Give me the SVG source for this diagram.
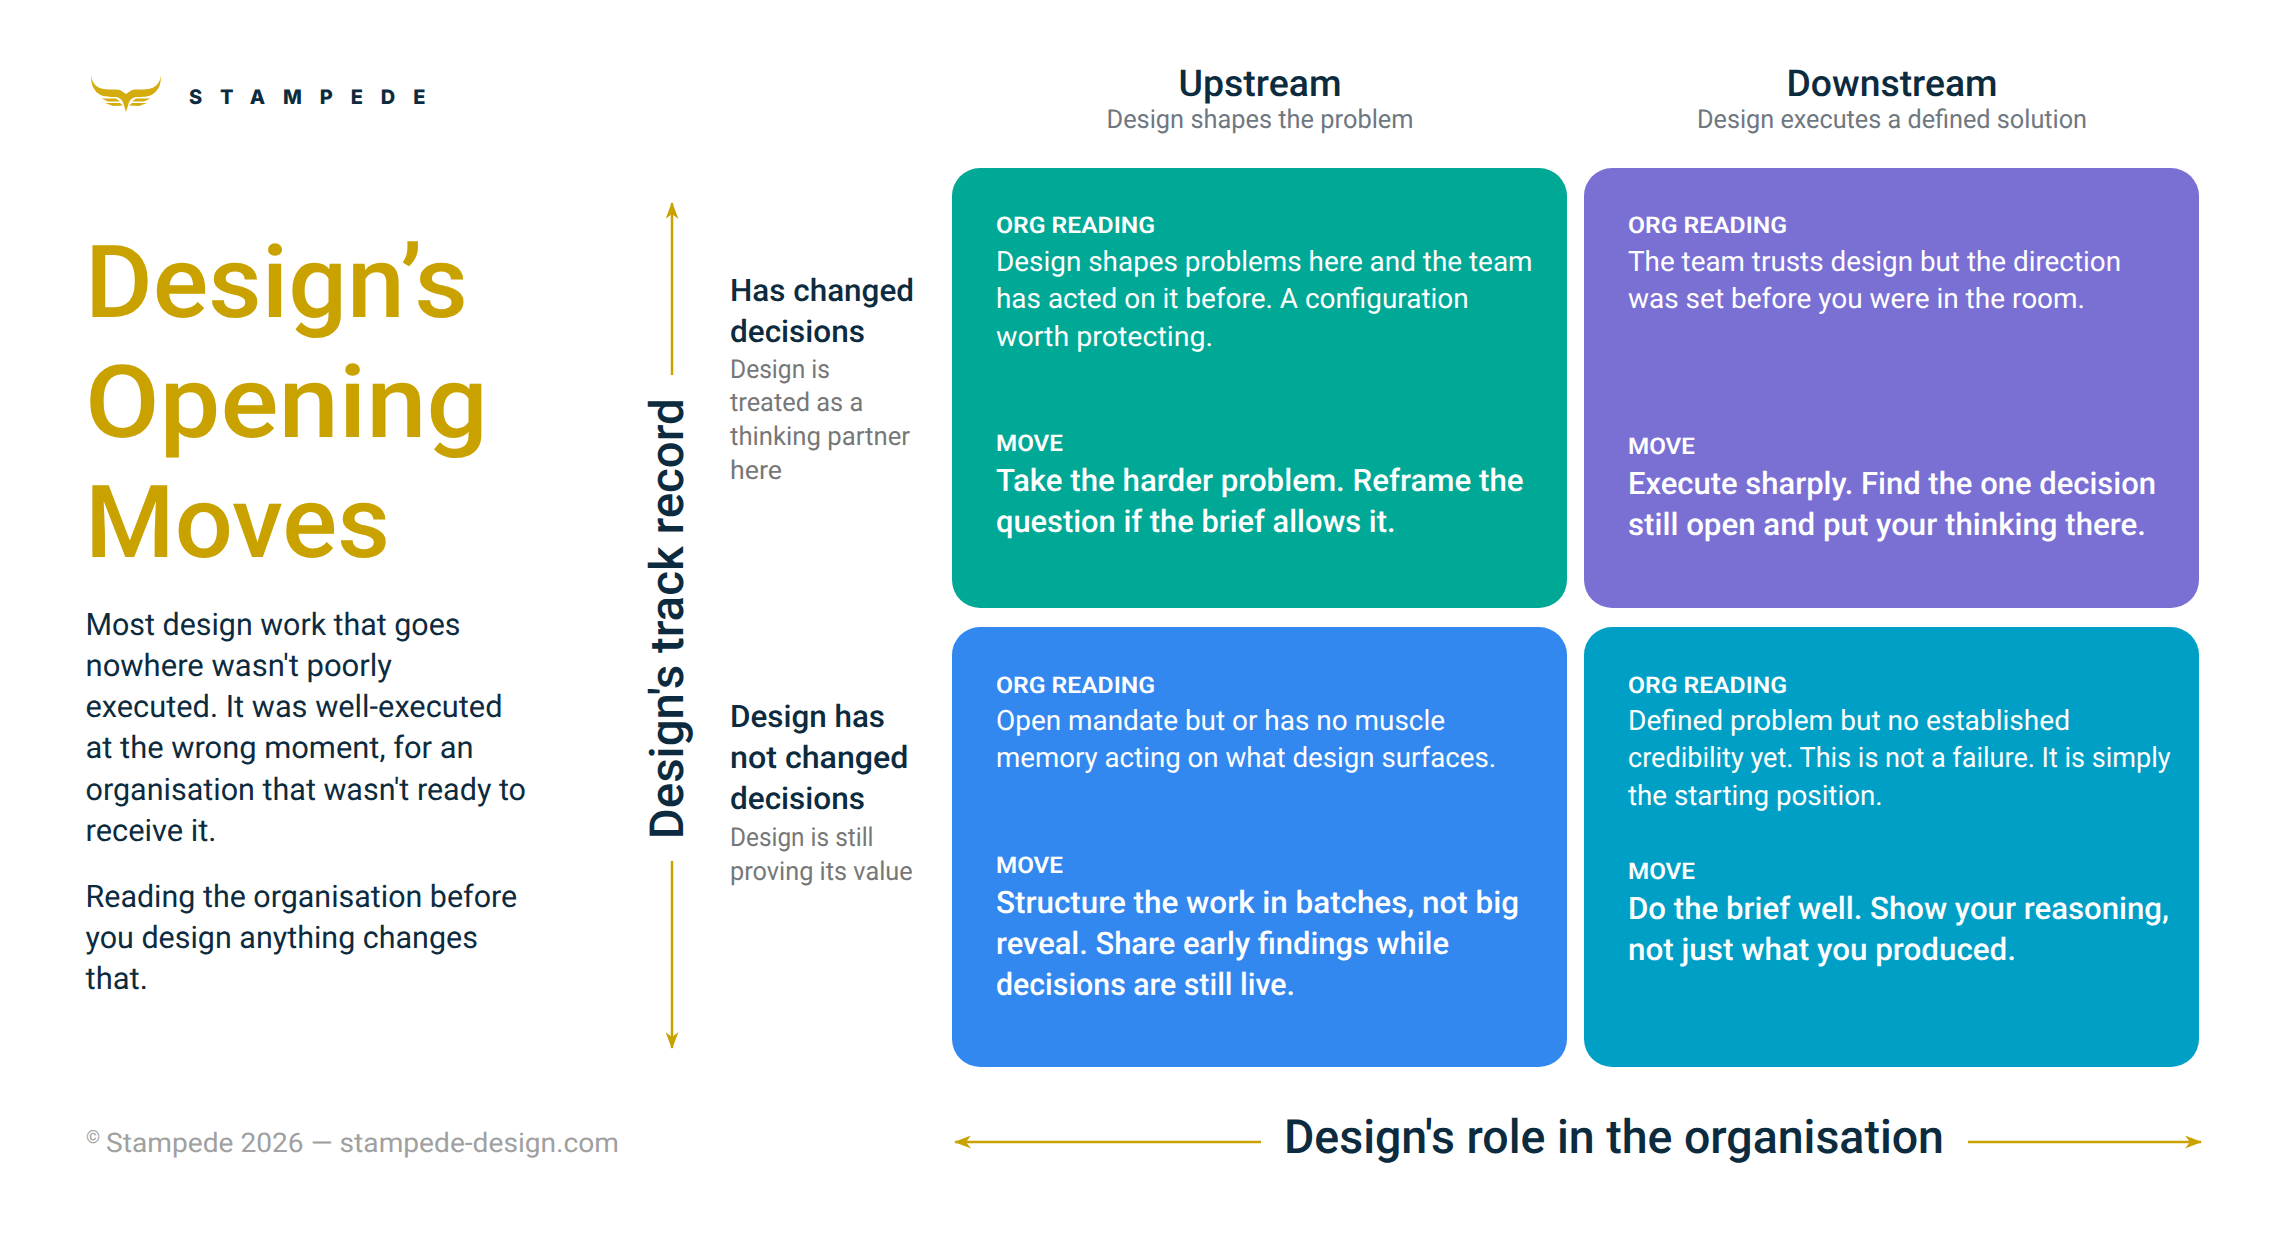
<svg xmlns="http://www.w3.org/2000/svg" width="2280" height="1252" viewBox="0 0 2280 1252">
<style>
text{font-family:Roboto,"Noto Sans",sans-serif;text-rendering:geometricPrecision}
.t{font-family:Inter,"Noto Sans",sans-serif}
.dark{fill:#0d2b3e}
.title{font-size:101px;font-weight:500;fill:#c9a200}
.para{font-size:31px;fill:#0d2b3e}
.hd{font-size:37px;font-weight:500;fill:#0d2b3e;text-anchor:middle}
.sub{font-size:26px;fill:#6f7780;text-anchor:middle}
.rl{font-size:31px;font-weight:500;fill:#0d2b3e}
.rs{font-size:26px;fill:#777}
.card{rx:28px}
.lab{font-size:23px;font-weight:600;fill:#fff}
.body{font-size:28px;fill:#fff}
.mv{font-size:31px;font-weight:500;fill:#fff}
.axis{font-size:47px;font-weight:500;fill:#0d2b3e}
.ft{fill:#a0a0a0}
.ln{stroke:#c9a200;stroke-width:2.5;fill:none}
</style>
<defs><marker id="ah" viewBox="0 0 17 13" refX="16" refY="6.500" markerWidth="17" markerHeight="13" markerUnits="userSpaceOnUse" orient="auto-start-reverse"><path d="M0 0L17 6.500L0 13L5 6.500Z" fill="#c9a200"/></marker>
<g id="half"><path d="M91 75C92 84 97 88 104 89C110 90 116 89 120 90L126 94L126 108C124 102 121 98 116 97C110 97 103 97 99 94C93 90 91 84 91 75Z"/><path d="M101.500 98.500L116 98.500L120 101.500L108 101.500Z"/><path d="M105 103L120 103L123 105.500L113 106Z"/></g></defs>
<g id="logo"><g fill="#d4ac0d"><use href="#half"/><use href="#half" transform="matrix(-1 0 0 1 252 0)"/><path d="M122 99L126 112L130 99Z"/></g><text x="189" y="104" font-size="20" font-weight="800" letter-spacing="17.900" class="t dark">STAMPEDE</text></g>
<g id="intro">
<text class="title" x="85" y="317" textLength="383" lengthAdjust="spacingAndGlyphs">Design’s</text><text class="title" x="85" y="437" textLength="403" lengthAdjust="spacingAndGlyphs">Opening</text><text class="title" x="85" y="557" textLength="305" lengthAdjust="spacingAndGlyphs">Moves</text>
<text class="para" x="85.500" y="635" textLength="375" lengthAdjust="spacingAndGlyphs">Most design work that goes</text><text class="para" x="85.500" y="676" textLength="306.500" lengthAdjust="spacingAndGlyphs">nowhere wasn't poorly</text><text class="para" x="85.500" y="717" textLength="417" lengthAdjust="spacingAndGlyphs">executed. It was well-executed</text><text class="para" x="85.500" y="758" textLength="388" lengthAdjust="spacingAndGlyphs">at the wrong moment, for an</text><text class="para" x="85.500" y="800" textLength="440.500" lengthAdjust="spacingAndGlyphs">organisation that wasn't ready to</text><text class="para" x="85.500" y="841" textLength="131" lengthAdjust="spacingAndGlyphs">receive it.</text>
<text class="para" x="85.500" y="907" textLength="431.700" lengthAdjust="spacingAndGlyphs">Reading the organisation before</text><text class="para" x="85.500" y="948" textLength="392.400" lengthAdjust="spacingAndGlyphs">you design anything changes</text><text class="para" x="85.500" y="989" textLength="62.400" lengthAdjust="spacingAndGlyphs">that.</text>
<text class="ft" x="86" y="1143" font-size="18">©</text><text class="ft" x="106" y="1152" font-size="27" textLength="513" lengthAdjust="spacingAndGlyphs">Stampede 2026 — stampede-design.com</text></g>
<g id="col-up"><text class="hd" x="1260" y="96" textLength="163" lengthAdjust="spacingAndGlyphs">Upstream</text><text class="sub" x="1260" y="128" textLength="307" lengthAdjust="spacingAndGlyphs">Design shapes the problem</text></g>
<g id="col-down"><text class="hd" x="1892" y="96" textLength="211" lengthAdjust="spacingAndGlyphs">Downstream</text><text class="sub" x="1892" y="128" textLength="390" lengthAdjust="spacingAndGlyphs">Design executes a defined solution</text></g>
<g id="row-top"><text class="rl" x="730" y="301" textLength="184" lengthAdjust="spacingAndGlyphs">Has changed</text><text class="rl" x="730" y="342" textLength="135" lengthAdjust="spacingAndGlyphs">decisions</text><text class="rs" x="730" y="378" textLength="100" lengthAdjust="spacingAndGlyphs">Design is</text><text class="rs" x="730" y="411" textLength="133.300" lengthAdjust="spacingAndGlyphs">treated as a</text><text class="rs" x="730" y="445" textLength="180" lengthAdjust="spacingAndGlyphs">thinking partner</text><text class="rs" x="730" y="479" textLength="52" lengthAdjust="spacingAndGlyphs">here</text></g>
<g id="row-bottom"><text class="rl" x="730" y="727" textLength="155" lengthAdjust="spacingAndGlyphs">Design has</text><text class="rl" x="730" y="768" textLength="178.500" lengthAdjust="spacingAndGlyphs">not changed</text><text class="rl" x="730" y="809" textLength="135" lengthAdjust="spacingAndGlyphs">decisions</text><text class="rs" x="730" y="846" textLength="143.500" lengthAdjust="spacingAndGlyphs">Design is still</text><text class="rs" x="730" y="880" textLength="182.700" lengthAdjust="spacingAndGlyphs">proving its value</text></g>
<g id="card-a"><rect class="card" x="952" y="168" width="615" height="440" fill="#00a896"/><text class="lab" x="996" y="233" textLength="159" lengthAdjust="spacingAndGlyphs">ORG READING</text><text class="body" x="996" y="271" textLength="536.500" lengthAdjust="spacingAndGlyphs">Design shapes problems here and the team</text><text class="body" x="996" y="308" textLength="472.700" lengthAdjust="spacingAndGlyphs">has acted on it before. A configuration</text><text class="body" x="996" y="346" textLength="217" lengthAdjust="spacingAndGlyphs">worth protecting.</text><text class="lab" x="996" y="451" textLength="67" lengthAdjust="spacingAndGlyphs">MOVE</text><text class="mv" x="996" y="491" textLength="527.500" lengthAdjust="spacingAndGlyphs">Take the harder problem. Reframe the</text><text class="mv" x="996" y="532" textLength="399.500" lengthAdjust="spacingAndGlyphs">question if the brief allows it.</text></g>
<g id="card-b"><rect class="card" x="1584" y="168" width="615" height="440" fill="#7a70d4"/><text class="lab" x="1628" y="233" textLength="159" lengthAdjust="spacingAndGlyphs">ORG READING</text><text class="body" x="1628" y="271" textLength="493" lengthAdjust="spacingAndGlyphs">The team trusts design but the direction</text><text class="body" x="1628" y="308" textLength="457" lengthAdjust="spacingAndGlyphs">was set before you were in the room.</text><text class="lab" x="1628" y="454" textLength="67" lengthAdjust="spacingAndGlyphs">MOVE</text><text class="mv" x="1628" y="494" textLength="528" lengthAdjust="spacingAndGlyphs">Execute sharply. Find the one decision</text><text class="mv" x="1628" y="535" textLength="518" lengthAdjust="spacingAndGlyphs">still open and put your thinking there.</text></g>
<g id="card-c"><rect class="card" x="952" y="627" width="615" height="440" fill="#3388f0"/><text class="lab" x="996" y="693" textLength="159" lengthAdjust="spacingAndGlyphs">ORG READING</text><text class="body" x="996" y="730" textLength="449" lengthAdjust="spacingAndGlyphs">Open mandate but or has no muscle</text><text class="body" x="996" y="767" textLength="500" lengthAdjust="spacingAndGlyphs">memory acting on what design surfaces.</text><text class="lab" x="996" y="873" textLength="67" lengthAdjust="spacingAndGlyphs">MOVE</text><text class="mv" x="996" y="913" textLength="523" lengthAdjust="spacingAndGlyphs">Structure the work in batches, not big</text><text class="mv" x="996" y="954" textLength="453" lengthAdjust="spacingAndGlyphs">reveal. Share early findings while</text><text class="mv" x="996" y="995" textLength="299" lengthAdjust="spacingAndGlyphs">decisions are still live.</text></g>
<g id="card-d"><rect class="card" x="1584" y="627" width="615" height="440" fill="#00a0c6"/><text class="lab" x="1628" y="693" textLength="159" lengthAdjust="spacingAndGlyphs">ORG READING</text><text class="body" x="1628" y="730" textLength="442" lengthAdjust="spacingAndGlyphs">Defined problem but no established</text><text class="body" x="1628" y="767" textLength="542.500" lengthAdjust="spacingAndGlyphs">credibility yet. This is not a failure. It is simply</text><text class="body" x="1628" y="805" textLength="254.600" lengthAdjust="spacingAndGlyphs">the starting position.</text><text class="lab" x="1628" y="879" textLength="67" lengthAdjust="spacingAndGlyphs">MOVE</text><text class="mv" x="1628" y="919" textLength="541" lengthAdjust="spacingAndGlyphs">Do the brief well. Show your reasoning,</text><text class="mv" x="1628" y="960" textLength="388" lengthAdjust="spacingAndGlyphs">not just what you produced.</text></g>
<g id="axes"><text class="axis" transform="translate(683 618.700) rotate(-90)" text-anchor="middle" textLength="441" lengthAdjust="spacingAndGlyphs">Design's track record</text><text class="axis" x="1614" y="1153" text-anchor="middle" textLength="660" lengthAdjust="spacingAndGlyphs">Design's role in the organisation</text></g>
<g id="connectors"><line class="ln" x1="672" y1="375" x2="672" y2="203" marker-end="url(#ah)"/><line class="ln" x1="672" y1="861" x2="672" y2="1048" marker-end="url(#ah)"/><line class="ln" x1="1261" y1="1142" x2="955" y2="1142" marker-end="url(#ah)"/><line class="ln" x1="1968" y1="1142" x2="2201" y2="1142" marker-end="url(#ah)"/></g>
</svg>
